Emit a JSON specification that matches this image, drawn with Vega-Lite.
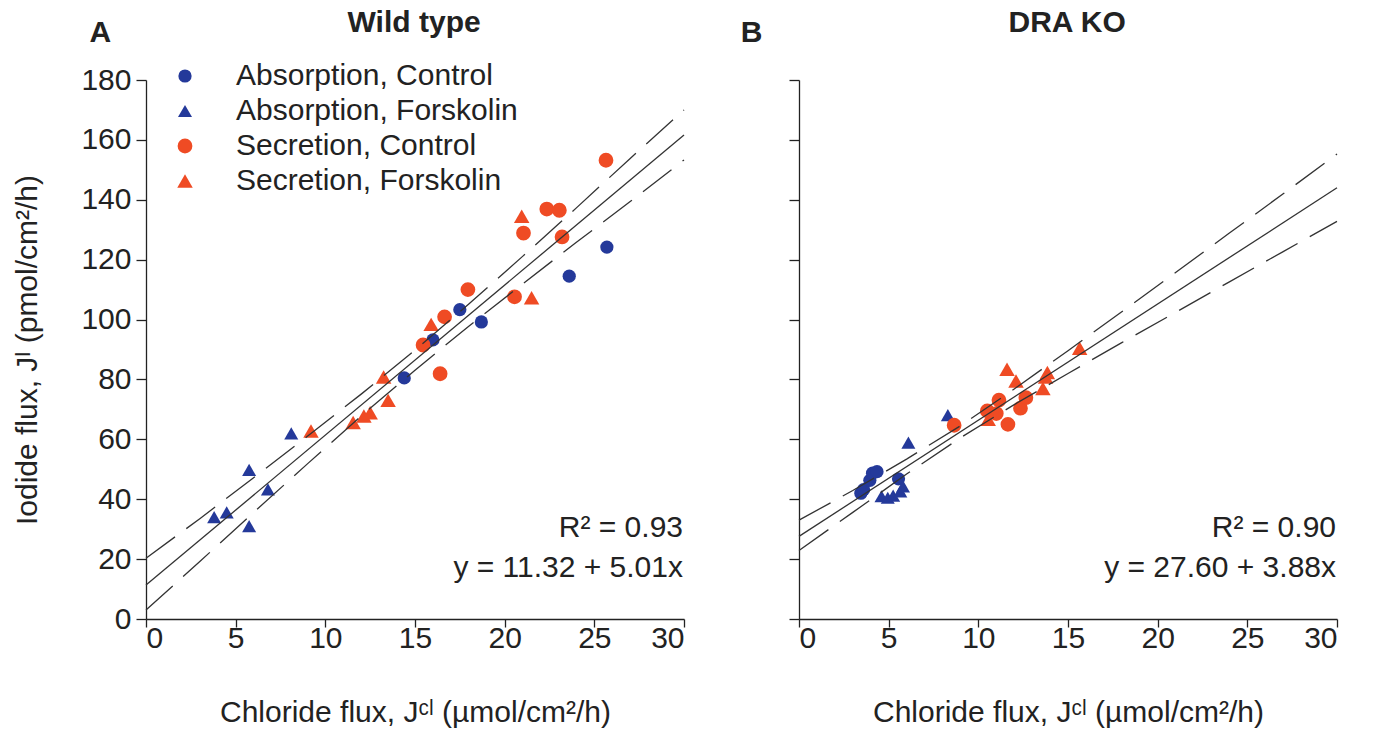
{
  "$schema": "https://vega.github.io/schema/vega-lite/v6.json",
  "padding": {"left": 12, "top": 7, "right": 5, "bottom": 3},
  "background": "white",
  "config": {
    "font": "Liberation Sans",
    "view": {"stroke": null},
    "axis": {"grid": false, "domainColor": "#222", "tickColor": "#222", "domainWidth": 1.3, "tickWidth": 1.3, "labelFontSize": 30, "labelColor": "#222", "titleFontSize": 30, "titleFontWeight": "normal", "titleColor": "#222"},
    "axisX": {"tickSize": 8, "labelPadding": -4, "titlePadding": 44},
    "axisY": {"tickSize": 10, "labelPadding": 5, "titlePadding": 38}
  },
  "datasets": {
    "ptsA": [
      {"x": 14.4, "y": 80.5, "series": "Absorption, Control"},
      {"x": 16.0, "y": 93.2, "series": "Absorption, Control"},
      {"x": 17.5, "y": 103.3, "series": "Absorption, Control"},
      {"x": 18.7, "y": 99.2, "series": "Absorption, Control"},
      {"x": 23.6, "y": 114.5, "series": "Absorption, Control"},
      {"x": 25.7, "y": 124.2, "series": "Absorption, Control"},
      {"x": 3.8, "y": 34.0, "series": "Absorption, Forskolin"},
      {"x": 4.5, "y": 35.6, "series": "Absorption, Forskolin"},
      {"x": 5.75, "y": 49.8, "series": "Absorption, Forskolin"},
      {"x": 5.75, "y": 31.0, "series": "Absorption, Forskolin"},
      {"x": 6.8, "y": 43.3, "series": "Absorption, Forskolin"},
      {"x": 8.1, "y": 62.0, "series": "Absorption, Forskolin"},
      {"x": 15.45, "y": 91.5, "series": "Secretion, Control"},
      {"x": 16.65, "y": 100.9, "series": "Secretion, Control"},
      {"x": 17.95, "y": 110.0, "series": "Secretion, Control"},
      {"x": 16.4, "y": 81.9, "series": "Secretion, Control"},
      {"x": 20.55, "y": 107.6, "series": "Secretion, Control"},
      {"x": 21.05, "y": 128.9, "series": "Secretion, Control"},
      {"x": 22.35, "y": 136.9, "series": "Secretion, Control"},
      {"x": 23.05, "y": 136.5, "series": "Secretion, Control"},
      {"x": 23.2, "y": 127.6, "series": "Secretion, Control"},
      {"x": 25.65, "y": 153.2, "series": "Secretion, Control"},
      {"x": 9.2, "y": 62.8, "series": "Secretion, Forskolin"},
      {"x": 11.55, "y": 65.6, "series": "Secretion, Forskolin"},
      {"x": 12.15, "y": 67.8, "series": "Secretion, Forskolin"},
      {"x": 12.5, "y": 68.9, "series": "Secretion, Forskolin"},
      {"x": 13.5, "y": 73.0, "series": "Secretion, Forskolin"},
      {"x": 13.25, "y": 80.8, "series": "Secretion, Forskolin"},
      {"x": 15.9, "y": 98.4, "series": "Secretion, Forskolin"},
      {"x": 20.95, "y": 134.5, "series": "Secretion, Forskolin"},
      {"x": 21.5, "y": 107.3, "series": "Secretion, Forskolin"}
    ],
    "ptsB": [
      {"x": 3.45, "y": 42.0, "series": "Absorption, Control"},
      {"x": 3.6, "y": 43.2, "series": "Absorption, Control"},
      {"x": 3.95, "y": 46.3, "series": "Absorption, Control"},
      {"x": 4.1, "y": 48.7, "series": "Absorption, Control"},
      {"x": 4.35, "y": 49.2, "series": "Absorption, Control"},
      {"x": 5.55, "y": 46.8, "series": "Absorption, Control"},
      {"x": 4.6, "y": 41.0, "series": "Absorption, Forskolin"},
      {"x": 4.95, "y": 40.5, "series": "Absorption, Forskolin"},
      {"x": 5.25, "y": 41.2, "series": "Absorption, Forskolin"},
      {"x": 5.65, "y": 42.6, "series": "Absorption, Forskolin"},
      {"x": 5.8, "y": 44.3, "series": "Absorption, Forskolin"},
      {"x": 6.1, "y": 58.9, "series": "Absorption, Forskolin"},
      {"x": 8.3, "y": 68.1, "series": "Absorption, Forskolin"},
      {"x": 8.65, "y": 64.7, "series": "Secretion, Control"},
      {"x": 10.5, "y": 69.5, "series": "Secretion, Control"},
      {"x": 11.0, "y": 68.6, "series": "Secretion, Control"},
      {"x": 11.15, "y": 73.1, "series": "Secretion, Control"},
      {"x": 11.65, "y": 65.0, "series": "Secretion, Control"},
      {"x": 12.35, "y": 70.4, "series": "Secretion, Control"},
      {"x": 12.65, "y": 73.9, "series": "Secretion, Control"},
      {"x": 10.55, "y": 66.7, "series": "Secretion, Forskolin"},
      {"x": 11.6, "y": 83.4, "series": "Secretion, Forskolin"},
      {"x": 12.1, "y": 79.5, "series": "Secretion, Forskolin"},
      {"x": 13.6, "y": 77.0, "series": "Secretion, Forskolin"},
      {"x": 13.75, "y": 80.8, "series": "Secretion, Forskolin"},
      {"x": 13.85, "y": 82.3, "series": "Secretion, Forskolin"},
      {"x": 15.65, "y": 90.4, "series": "Secretion, Forskolin"}
    ],
    "fitA": [
      {"x": 0, "y": 11.32},
      {"x": 30, "y": 161.62}
    ],
    "fitB": [
      {"x": 0, "y": 27.6},
      {"x": 30, "y": 144.0}
    ],
    "bandA": [
      {"x": 0, "y": 20.3, "band": "upper"}, {"x": 3, "y": 33.5, "band": "upper"}, {"x": 6, "y": 47.2, "band": "upper"},
      {"x": 9, "y": 61.0, "band": "upper"}, {"x": 12, "y": 75.1, "band": "upper"}, {"x": 15, "y": 89.8, "band": "upper"},
      {"x": 18, "y": 105.2, "band": "upper"}, {"x": 21, "y": 121.1, "band": "upper"}, {"x": 24, "y": 137.3, "band": "upper"},
      {"x": 27, "y": 153.8, "band": "upper"}, {"x": 30, "y": 170.0, "band": "upper"},
      {"x": 0, "y": 3.0, "band": "lower"}, {"x": 3, "y": 19.2, "band": "lower"}, {"x": 6, "y": 35.6, "band": "lower"},
      {"x": 9, "y": 51.8, "band": "lower"}, {"x": 12, "y": 67.8, "band": "lower"}, {"x": 15, "y": 83.1, "band": "lower"},
      {"x": 18, "y": 97.8, "band": "lower"}, {"x": 21, "y": 111.9, "band": "lower"}, {"x": 24, "y": 125.8, "band": "lower"},
      {"x": 27, "y": 139.4, "band": "lower"}, {"x": 30, "y": 153.3, "band": "lower"}
    ],
    "bandB": [
      {"x": 0, "y": 33.0, "band": "upper"}, {"x": 3, "y": 42.9, "band": "upper"}, {"x": 6, "y": 53.4, "band": "upper"},
      {"x": 9, "y": 64.5, "band": "upper"}, {"x": 12, "y": 76.8, "band": "upper"}, {"x": 15, "y": 89.6, "band": "upper"},
      {"x": 18, "y": 102.6, "band": "upper"}, {"x": 21, "y": 115.7, "band": "upper"}, {"x": 24, "y": 128.9, "band": "upper"},
      {"x": 27, "y": 142.0, "band": "upper"}, {"x": 30, "y": 155.3, "band": "upper"},
      {"x": 0, "y": 22.9, "band": "lower"}, {"x": 3, "y": 35.6, "band": "lower"}, {"x": 6, "y": 48.4, "band": "lower"},
      {"x": 9, "y": 60.5, "band": "lower"}, {"x": 12, "y": 71.6, "band": "lower"}, {"x": 15, "y": 82.0, "band": "lower"},
      {"x": 18, "y": 92.3, "band": "lower"}, {"x": 21, "y": 102.4, "band": "lower"}, {"x": 24, "y": 112.6, "band": "lower"},
      {"x": 27, "y": 122.7, "band": "lower"}, {"x": 30, "y": 132.8, "band": "lower"}
    ],
    "statsA": [
      {"x": 30, "y": 30.4, "label": "R² = 0.93"},
      {"x": 30, "y": 17.0, "label": "y = 11.32 + 5.01x"}
    ],
    "statsB": [
      {"x": 30, "y": 30.4, "label": "R² = 0.90"},
      {"x": 30, "y": 17.0, "label": "y = 27.60 + 3.88x"}
    ],
    "headA": [
      {"x": -2.55, "y": 195.7, "label": "A"},
      {"x": 14.95, "y": 199.1, "label": "Wild type"}
    ],
    "headB": [
      {"x": -2.65, "y": 195.7, "label": "B"},
      {"x": 14.95, "y": 199.1, "label": "DRA KO"}
    ]
  },
  "bounds": "flush",
  "spacing": 115,
  "resolve": {"scale": {"color": "independent", "shape": "independent", "size": "independent"}, "legend": {"color": "independent", "shape": "independent", "size": "independent"}},
  "hconcat": [
    {
      "width": 538,
      "height": 539,
      "encoding": {
        "x": {"field": "x", "type": "quantitative", "scale": {"domain": [0, 30]}, "axis": {"values": [0, 5, 10, 15, 20, 25, 30], "title": "Chloride flux, Jᶜˡ (µmol/cm²/h)"}},
        "y": {"field": "y", "type": "quantitative", "scale": {"domain": [0, 180]}, "axis": {"values": [0, 20, 40, 60, 80, 100, 120, 140, 160, 180], "title": "Iodide flux, Jᴵ (pmol/cm²/h)"}}
      },
      "layer": [
        {
          "data": {"name": "ptsA"},
          "mark": {"type": "point", "filled": true, "opacity": 1},
          "encoding": {
            "color": {"field": "series", "type": "nominal",
              "scale": {"domain": ["Absorption, Control", "Absorption, Forskolin", "Secretion, Control", "Secretion, Forskolin"], "range": ["#24399a", "#24399a", "#ef4b24", "#ef4b24"]},
              "legend": {"orient": "none", "legendX": 24, "legendY": -19, "title": null, "labelFontSize": 30, "labelColor": "#222", "labelLimit": 0, "symbolSize": 120, "rowPadding": 5, "labelOffset": 36, "padding": 0, "symbolStrokeWidth": 0}},
            "shape": {"field": "series", "type": "nominal",
              "scale": {"domain": ["Absorption, Control", "Absorption, Forskolin", "Secretion, Control", "Secretion, Forskolin"], "range": ["circle", "triangle-up", "circle", "triangle-up"]},
              "legend": {"orient": "none", "legendX": 24, "legendY": -19, "title": null, "labelFontSize": 30, "labelColor": "#222", "labelLimit": 0, "symbolSize": 120, "rowPadding": 5, "labelOffset": 36, "padding": 0, "symbolStrokeWidth": 0}},
            "size": {"field": "series", "type": "nominal",
              "scale": {"domain": ["Absorption, Control", "Absorption, Forskolin", "Secretion, Control", "Secretion, Forskolin"], "range": [175, 240, 175, 240]},
              "legend": null}
          }
        },
        {
          "data": {"name": "fitA"},
          "mark": {"type": "line", "color": "#333", "strokeWidth": 1.3},
          "encoding": {}
        },
        {
          "data": {"name": "bandA"},
          "mark": {"type": "line", "color": "#333", "strokeWidth": 1.3, "strokeDash": [36, 14]},
          "encoding": {"detail": {"field": "band", "type": "nominal"}}
        },
        {
          "data": {"name": "statsA"},
          "mark": {"type": "text", "align": "right", "baseline": "middle", "fontSize": 30, "color": "#222", "dx": -1},
          "encoding": {"text": {"field": "label"}}
        },
        {
          "data": {"name": "headA"},
          "mark": {"type": "text", "align": "center", "baseline": "middle", "fontSize": 30, "fontWeight": "bold", "color": "#222"},
          "encoding": {"text": {"field": "label"}}
        }
      ]
    },
    {
      "width": 538,
      "height": 539,
      "encoding": {
        "x": {"field": "x", "type": "quantitative", "scale": {"domain": [0, 30]}, "axis": {"values": [0, 5, 10, 15, 20, 25, 30], "title": "Chloride flux, Jᶜˡ (µmol/cm²/h)"}},
        "y": {"field": "y", "type": "quantitative", "scale": {"domain": [0, 180]}, "axis": {"values": [0, 20, 40, 60, 80, 100, 120, 140, 160, 180], "labels": false, "title": null}}
      },
      "layer": [
        {
          "data": {"name": "ptsB"},
          "mark": {"type": "point", "filled": true, "opacity": 1},
          "encoding": {
            "color": {"field": "series", "type": "nominal",
              "scale": {"domain": ["Absorption, Control", "Absorption, Forskolin", "Secretion, Control", "Secretion, Forskolin"], "range": ["#24399a", "#24399a", "#ef4b24", "#ef4b24"]},
              "legend": null},
            "shape": {"field": "series", "type": "nominal",
              "scale": {"domain": ["Absorption, Control", "Absorption, Forskolin", "Secretion, Control", "Secretion, Forskolin"], "range": ["circle", "triangle-up", "circle", "triangle-up"]},
              "legend": null},
            "size": {"field": "series", "type": "nominal",
              "scale": {"domain": ["Absorption, Control", "Absorption, Forskolin", "Secretion, Control", "Secretion, Forskolin"], "range": [175, 240, 175, 240]},
              "legend": null}
          }
        },
        {
          "data": {"name": "fitB"},
          "mark": {"type": "line", "color": "#333", "strokeWidth": 1.3},
          "encoding": {}
        },
        {
          "data": {"name": "bandB"},
          "mark": {"type": "line", "color": "#333", "strokeWidth": 1.3, "strokeDash": [36, 14]},
          "encoding": {"detail": {"field": "band", "type": "nominal"}}
        },
        {
          "data": {"name": "statsB"},
          "mark": {"type": "text", "align": "right", "baseline": "middle", "fontSize": 30, "color": "#222", "dx": -1},
          "encoding": {"text": {"field": "label"}}
        },
        {
          "data": {"name": "headB"},
          "mark": {"type": "text", "align": "center", "baseline": "middle", "fontSize": 30, "fontWeight": "bold", "color": "#222"},
          "encoding": {"text": {"field": "label"}}
        }
      ]
    }
  ]
}
